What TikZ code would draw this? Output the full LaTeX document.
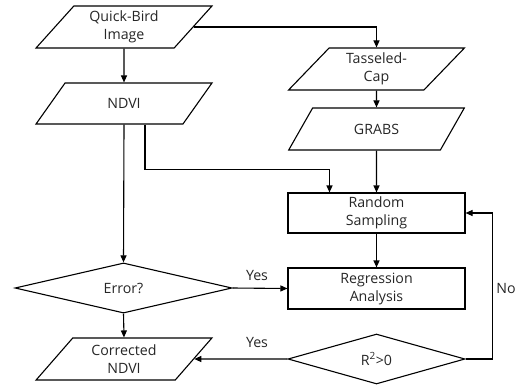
\documentclass[tikz,border=0pt]{standalone}
\usepackage{fontspec}
\setmainfont{Open Sans}
\usetikzlibrary{shapes.geometric,arrows.meta,calc}
\begin{document}
\begin{tikzpicture}[x=1pt,y=-1pt,
  every node/.style={font=\fontsize{14.2}{18}\selectfont, text=black!85, align=center, inner sep=0pt},
  para/.style={draw, line width=1.1pt, trapezium, trapezium left angle=51, trapezium right angle=129,
    trapezium stretches=true, minimum width=176pt, minimum height=42pt},
  box/.style={draw, line width=1.1pt, rectangle, minimum width=177pt, minimum height=40pt},
  dia/.style={draw, line width=1.1pt, diamond, minimum height=50pt},
  arr/.style={line width=1.1pt, -{Triangle[length=7pt,width=6pt]}},
  lbl/.style={font=\fontsize{14.2}{16}\selectfont}]
\useasboundingbox (0,0) rectangle (525,386);
\node[para] (qb) at (124,27) {Quick-Bird\\Image};
\node[para, minimum height=41pt] (ndvi) at (124,103.5) {NDVI};
\node[para] (tc) at (376.5,69) {Tasseled-\\Cap};
\node[para] (gr) at (376.5,129) {GRABS};
\node[box] (rs) at (376.5,213) {Random\\Sampling};
\node[box, minimum height=41pt] (reg) at (376.5,288.5) {Regression\\Analysis};
\node[dia, minimum width=217pt] (err) at (123.5,288) {Error?};
\node[dia, minimum width=177pt] (r2) at (376.5,359) {R\textsuperscript{2}>0};
\node[para] (cn) at (124,359) {Corrected\\NDVI};
\node[lbl] (y1) at (257,275) {Yes};
\node[lbl] (y2) at (257,342) {Yes};
\node[lbl] (no) at (506,288) {No};
\draw[arr] (qb) -- (ndvi);
\draw[arr] (qb.east) -| (tc.north);
\draw[arr] (tc) -- (gr);
\draw[arr] (gr) -- (rs);
\draw[arr] (ndvi.south) -- (err.north);
\draw[arr] ([xshift=21pt]ndvi.south) |- ([xshift=-47pt,yshift=23pt]rs.north) -- ([xshift=-47pt]rs.north);
\draw[arr] (rs) -- (reg);
\draw[arr] (err.east) -- (reg.west);
\draw[arr] (err.south) -- (cn.north);
\draw[arr] (r2.west) -- (cn.east);
\draw[arr] (r2.east) -- ++(27,0) |- (rs.east);
\end{tikzpicture}
\end{document}
